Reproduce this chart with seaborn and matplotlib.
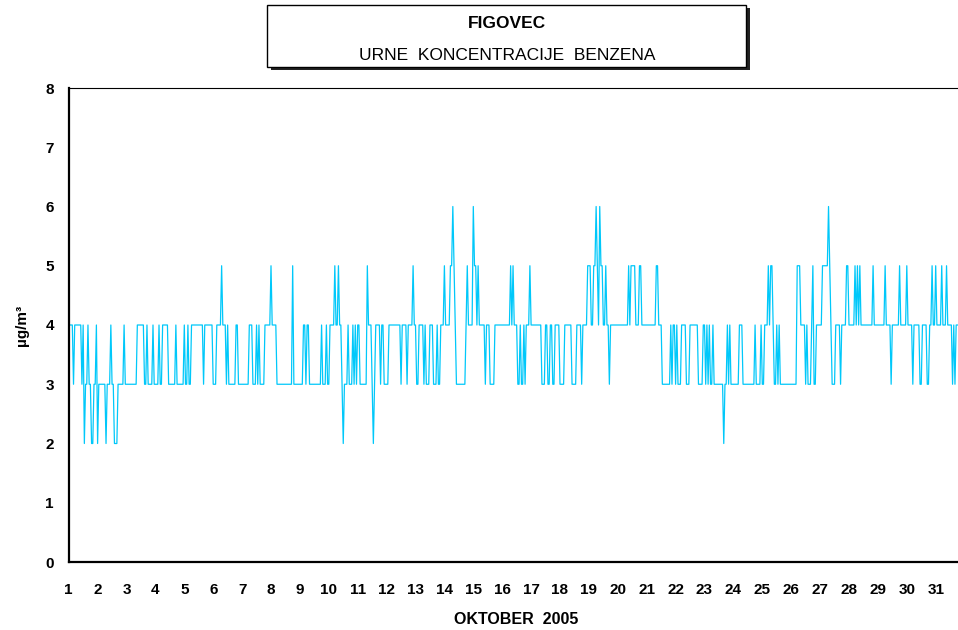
import matplotlib
matplotlib.use("Agg")
import matplotlib.pyplot as plt
from matplotlib.patches import Rectangle
import seaborn as sns

# hourly benzene readings (ug/m3), consecutive chunks
hourly_chunks = [
    "444434444443423343322334",
    "233333323334332223333343",
    "33333333344444433433334",
    "333343344444333333433333",
    "343343344444444443444444",
    "433344445444343333334433",
    "333333344433343433334444",
    "45444433333333333335333",
    "333334434433333333334333",
    "433444454454432333433343",
    "434433333354443234444344",
    "333344444444443444434444",
    "54433444434333444333433",
    "444544445565433333333454",
    "444655454444434443333444",
    "444444444454544433433434",
    "445444444444333443344334",
    "444333344444433334444344",
    "445554455654655445443444",
    "44444444444454555544455",
    "444444444444554443333333",
    "434434333444433344444443",
    "333443434334333333332334",
    "34333333344433333333334",
    "333343344454554334343333",
    "333333333355544443433345",
    "334444455555654333444434",
    "444554444454545444444444",
    "45444444444544443444444",
    "544444544443444443344443",
    "344544544445444544443434",
    "444444",  # last hours, cut off at the right edge
]
days = list(range(1, 32))
y_ticks = list(range(0, 9))

values = [int(c) for chunk in hourly_chunks for c in chunk]
hours = list(range(len(values)))

sns.set_theme(style="white")
plt.rcParams['font.family'] = ['Liberation Sans', 'DejaVu Sans']
plt.rcParams['text.color'] = 'black'
plt.rcParams['axes.labelcolor'] = 'black'
plt.rcParams['xtick.color'] = 'black'
plt.rcParams['ytick.color'] = 'black'

W, H = 958, 630
fig = plt.figure(figsize=(W / 100, H / 100), dpi=100)
ax = fig.add_axes([68.7 / W, 68 / H, 895.9 / W, 474 / H])

sns.lineplot(x=hours, y=values, ax=ax, color="#00C8FA", linewidth=0.9)

ax.set_xlim(0, 744)
ax.set_ylim(0, 8)
ax.set_xticks([(d - 1) * 24 for d in days])
ax.set_xticklabels([str(d) for d in days], fontsize=11, fontweight="bold")
ax.set_yticks(y_ticks)
ax.set_yticklabels([str(v) for v in y_ticks], fontsize=11, fontweight="bold")
ax.tick_params(axis="x", direction="inout", length=8, width=1, color="#555555",
               labelcolor="black", pad=11)
ax.tick_params(axis="y", direction="inout", length=8, width=1, color="#555555",
               labelcolor="black", pad=6.6)

for side in ["left", "bottom"]:
    ax.spines[side].set_color("black")
    ax.spines[side].set_linewidth(1.6)
ax.spines["top"].set_color("black")
ax.spines["top"].set_linewidth(0.8)
ax.spines["right"].set_visible(False)

ax.set_xlabel("OKTOBER  2005", fontsize=11.5, fontweight="bold", va="center", color="black")
ax.xaxis.set_label_coords(0.5, -(619 - 562) / 474)
ax.set_ylabel("µg/m³", fontsize=11, fontweight="bold", va="center", color="black")
ax.yaxis.set_label_coords(-(68.7 - 22) / 895.9, 0.5)

# title box with drop shadow
fig.add_artist(Rectangle((271 / W, 1 - 70 / H), 479 / W, 62 / H,
                         transform=fig.transFigure, facecolor="#222222",
                         edgecolor="none", zorder=1))
fig.add_artist(Rectangle((267 / W, 1 - 67 / H), 479 / W, 62 / H,
                         transform=fig.transFigure, facecolor="white",
                         edgecolor="black", linewidth=1, zorder=2))
fig.text(507 / W, 1 - 23 / H, "FIGOVEC", fontsize=12.5, fontweight="bold",
         color="black", ha="center", va="center", zorder=3)
fig.text(507 / W, 1 - 55 / H, "URNE  KONCENTRACIJE  BENZENA", fontsize=12.5,
         color="black", ha="center", va="center", zorder=3)

fig.savefig("out.png", dpi=100)
